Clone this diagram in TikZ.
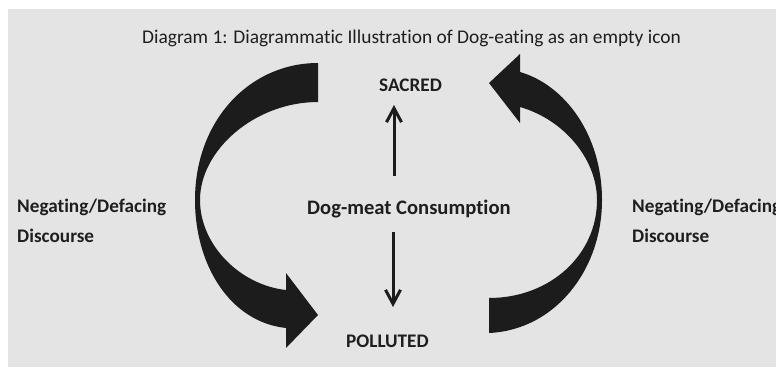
\documentclass[tikz,border=0pt]{standalone}
\usepackage{fontspec}
\setmainfont{Carlito}[Ligatures={NoCommon,NoRequired,NoContextual}]
\usetikzlibrary{arrows.meta}
\definecolor{bg}{HTML}{E4E4E4}
\definecolor{ink}{HTML}{1C1C1C}
\definecolor{txt}{HTML}{1E1E1E}
\tikzset{
  lbl/.style={inner sep=0pt, anchor=base west, text=txt, font=\fontsize{19.2}{23}\selectfont\bfseries},
  ttl/.style={inner sep=0pt, anchor=base west, text=txt, font=\fontsize{19.4}{23}\selectfont},
  bigarrow/.style={fill=ink, draw=none},
  thinarrow/.style={draw=ink, line width=3pt, -{Straight Barb[length=14pt,width=15pt]}}
}
\begin{document}
\begin{tikzpicture}[x=1pt,y=-1pt]
\useasboundingbox (0,0) rectangle (776,367);
\clip (0,0) rectangle (776,367);
\fill[white] (0,0) rectangle (776,367);
\fill[bg] (8,9) rectangle (776,367);
\node[ttl] (title) at (142,43) {Diagram 1: Diagrammatic Illustration of Dog-eating as an empty icon};
\node[lbl] (sacred) at (379,91) {SACRED};
\node[lbl, font=\fontsize{20.6}{24}\selectfont\bfseries] (dog) at (307,214) {Dog-meat Consumption};
\node[lbl] (polluted) at (346,347) {POLLUTED};
\node[lbl] (negl1) at (17,212) {Negating/Defacing};
\node[lbl] (negl2) at (17,242) {Discourse};
\node[lbl] (negr1) at (632,212) {Negating/Defacing};
\node[lbl] (negr2) at (632,242) {Discourse};
\coordinate (upS) at (394,176);
\coordinate (upE) at (394,105);
\coordinate (dnS) at (393,232);
\coordinate (dnE) at (393,307);
\draw[thinarrow] (upS) -- (upE);
\draw[thinarrow] (dnS) -- (dnE);
% left curved arrow
\path[bigarrow] (318,63) -- (318,102)
  .. controls (255,102) and (200,150) .. (200,200)
  .. controls (200,245) and (240,285) .. (286,290)
  -- (286,273) -- (318,315) -- (286,348) -- (286,328)
  .. controls (230,322) and (195,265) .. (195,200)
  .. controls (195,120) and (250,63) .. (318,63) -- cycle;
% right curved arrow
\path[bigarrow] (489,298) -- (489,333)
  .. controls (555,330) and (602,270) .. (602,200)
  .. controls (602,135) and (565,85) .. (520,72)
  -- (520,54) -- (489,83) -- (520,123) -- (520,107)
  .. controls (565,120) and (597,160) .. (597,200)
  .. controls (597,255) and (550,298) .. (489,298) -- cycle;
\end{tikzpicture}
\end{document}
